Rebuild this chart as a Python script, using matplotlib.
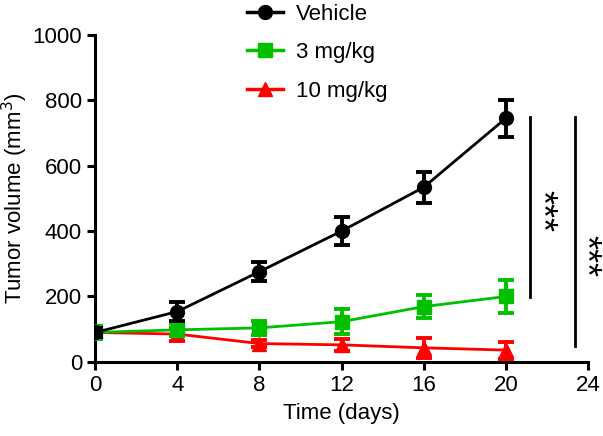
import matplotlib
matplotlib.use('Agg')
import matplotlib.pyplot as plt
from matplotlib.lines import Line2D
import numpy as np

plt.rcParams['font.family'] = ['Liberation Sans', 'DejaVu Sans']

days = [0, 4, 8, 12, 16, 20]
vehicle = [90, 154, 276, 400, 534, 745]
vehicle_err = [15, 30, 30, 44, 48, 56]
mg3 = [90, 98, 104, 123, 169, 200]
mg3_err = [20, 20, 22, 38, 36, 50]
mg10 = [90, 85, 56, 52, 43, 36]
mg10_err = [10, 20, 10, 19, 30, 26]

fig = plt.figure(figsize=(6.03, 4.36), dpi=100)
ax = fig.add_axes([0.158, 0.17, 0.817, 0.75])

ax.errorbar(days, mg10, yerr=mg10_err, color='#ff0000', marker='^', ms=10, lw=2,
            elinewidth=2.8, capsize=6, capthick=2.8, zorder=3)
ax.errorbar(days, mg3, yerr=mg3_err, color='#00c000', marker='s', ms=10, lw=2,
            elinewidth=2.8, capsize=6, capthick=2.8, zorder=4)
ax.errorbar(days, vehicle, yerr=vehicle_err, color='black', marker='o', ms=10, lw=2,
            elinewidth=2.8, capsize=6, capthick=2.8, zorder=5)

# significance bars
ax.plot([21.2, 21.2], [750, 198], color='black', lw=2, clip_on=False)
ax.text(21.65, 462, '***', rotation=270, ha='center', va='center', fontsize=26)
ax.plot([23.35, 23.35], [750, 48], color='black', lw=2, clip_on=False)
ax.text(23.8, 323, '***', rotation=270, ha='center', va='center', fontsize=26)

ax.set_xlim(0, 24)
ax.set_ylim(0, 1000)
ax.set_xticks([0, 4, 8, 12, 16, 20, 24])
ax.set_yticks([0, 200, 400, 600, 800, 1000])
ax.spines['top'].set_visible(False)
ax.spines['right'].set_visible(False)
ax.spines['left'].set_linewidth(2.2)
ax.spines['bottom'].set_linewidth(2.2)
ax.tick_params(width=2.2, length=6, labelsize=16)
ax.set_xlabel('Time (days)', fontsize=16, labelpad=5)
ax.set_ylabel('Tumor volume (mm$^3$)', fontsize=16, labelpad=2)

handles = [Line2D([], [], color='black', marker='o', ms=10, lw=2.5),
           Line2D([], [], color='#00c000', marker='s', ms=10, lw=2.5),
           Line2D([], [], color='#ff0000', marker='^', ms=10, lw=2.5)]
ax.legend(handles, ['Vehicle', '3 mg/kg', '10 mg/kg'], loc='upper left',
          bbox_to_anchor=(0.29, 1.122), frameon=False, fontsize=16,
          handlelength=1.6, labelspacing=0.78, handletextpad=0.6,
          borderaxespad=0)

fig.savefig('out.png', dpi=100)
